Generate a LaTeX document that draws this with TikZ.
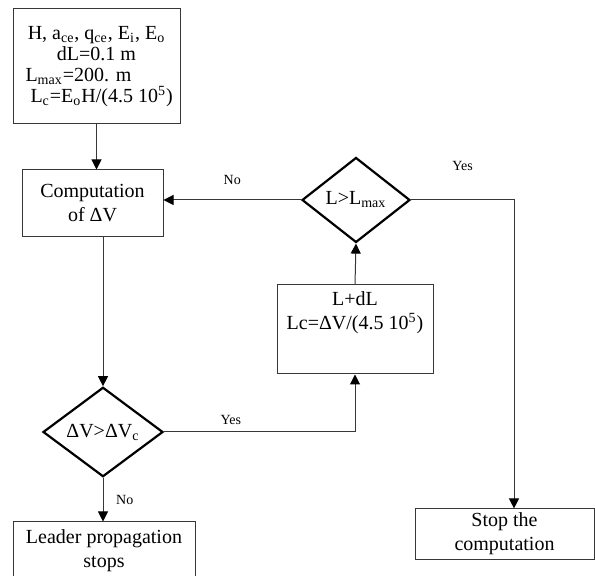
\documentclass[tikz,border=0pt]{standalone}
\usepackage{fontspec}
\setmainfont{Liberation Serif}
\usetikzlibrary{positioning,arrows.meta,shapes.geometric}
\definecolor{flowgray}{RGB}{55,55,55}

\begin{document}
\begin{tikzpicture}[x=0.5pt,y=-0.5pt,
  proc/.style={draw=flowgray,line width=0.5pt,align=center,
               font=\fontsize{10}{12}\selectfont,inner sep=2pt},
  dec/.style={diamond,draw=black,line width=1.1pt,inner sep=0pt,
              font=\fontsize{10}{12}\selectfont},
  arr/.style={-{Triangle[length=5pt,width=5pt,color=black]},line width=0.5pt,color=flowgray},
  lbl/.style={font=\fontsize{7}{8}\selectfont,text=black}]
  \useasboundingbox (0,0) rectangle (595,576);
  \node[proc,minimum width=83.5pt,minimum height=57.5pt,font=\fontsize{10}{10.5}\selectfont] (init) at (96.5,66.5)
    {H, a\textsubscript{ce}, q\textsubscript{ce}, E\textsubscript{i}, E\textsubscript{o}\\
     dL=0.1 m\\
     \makebox[71pt][l]{L\textsubscript{max}=200. m}\\
     \makebox[71pt][l]{\ L\textsubscript{c}=E\textsubscript{o}H/(4.5 10\textsuperscript{5})}};
  \node[proc,minimum width=70.5pt,minimum height=33.5pt] (comp) at (92.5,203.5) {Computation\\ of ΔV};
  \node[dec,minimum width=60pt,minimum height=39.5pt] (test1) at (103,432) {ΔV>ΔV\textsubscript{c}};
  \node[proc,minimum width=91pt,minimum height=29pt] (leader) at (104,551) {Leader propagation\\ stops};
  \node[proc,minimum width=78pt,minimum height=44.5pt,inner sep=3pt] (inc) at (355,329.5)
    {\parbox[c][38pt][t]{72pt}{\centering L+dL\\ Lc=ΔV/(4.5 10\textsuperscript{5})}};
  \node[dec,minimum width=54pt,minimum height=42.5pt] (test2) at (356,200) {L>L\textsubscript{max}};
  \node[proc,minimum width=89.5pt,minimum height=23pt] (stop) at (504.5,534) {Stop the\\ computation};
  \coordinate (turn) at (514,200);
  \draw[arr] (init.south) -- (init.south |- comp.north);
  \draw[arr] (comp.south -| test1.north) -- (test1.north);
  \draw[arr] (test1.south) -- node[lbl,right=3pt]{No} (leader.north -| test1.south);
  \draw[arr] (test1.east) -- node[lbl,above,pos=0.35]{Yes} (test1.east -| inc.south) -- (inc.south);
  \draw[arr] (inc.north) -- (test2.south);
  \draw[arr] (test2.west) -- node[lbl,above=4pt]{No} (test2.west -| comp.east);
  \draw[arr] (test2.east) -- node[lbl,above=11pt]{Yes} (turn) -- (turn |- stop.north);
\end{tikzpicture}
\end{document}
